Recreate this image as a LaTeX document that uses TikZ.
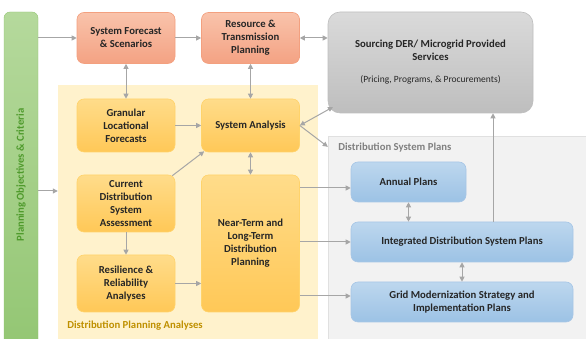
\documentclass[tikz,border=0pt]{standalone}
\usepackage{fontspec}
\setmainfont{Carlito}
\usetikzlibrary{arrows.meta}
\definecolor{salmontop}{HTML}{F9C3AB}
\definecolor{salmonbot}{HTML}{F4A283}
\definecolor{salmonline}{HTML}{F3A07F}
\definecolor{ambertop}{HTML}{FFDC8A}
\definecolor{amberbot}{HTML}{FFC857}
\definecolor{amberline}{HTML}{FFD36B}
\definecolor{bluetop}{HTML}{BDD7EE}
\definecolor{bluebot}{HTML}{9CC2E5}
\definecolor{blueline}{HTML}{A7C6E6}
\definecolor{greytop}{HTML}{DADADA}
\definecolor{greybot}{HTML}{BEBEBE}
\definecolor{arrowgrey}{HTML}{A6A6A6}
\definecolor{paleyellow}{HTML}{FFF2CC}
\definecolor{palegrey}{HTML}{F2F2F2}
\definecolor{greentop}{HTML}{B5D99C}
\definecolor{greenbot}{HTML}{93C673}
\definecolor{greentext}{HTML}{4F9A2C}
\definecolor{goldtext}{HTML}{BF9000}
\definecolor{inktext}{HTML}{262626}

\begin{document}
\begin{tikzpicture}[x=1pt,y=1pt,
		font=\fontsize{10.7}{13}\selectfont\bfseries,
		box/.style={rounded corners=7pt,draw,line width=0.6pt,align=center,text=inktext,inner sep=2pt},
		salmonbox/.style={box,draw=salmonline,top color=salmontop,bottom color=salmonbot,minimum width=98,minimum height=51},
		amberbox/.style={box,draw=amberline,top color=ambertop,bottom color=amberbot,minimum width=98},
		bluebox/.style={box,draw=blueline,top color=bluetop,bottom color=bluebot,minimum height=40},
		arr/.style={arrowgrey,line width=1pt,-{Triangle[length=5pt,width=5pt]}},
		dblarr/.style={arr,{Triangle[length=5pt,width=5pt]}-{Triangle[length=5pt,width=5pt]}}]
	\useasboundingbox (0,0) rectangle (586,339);
	\clip (0,0) rectangle (586,339);
	% backgrounds
	\node[fill=paleyellow,minimum width=260,minimum height=258,inner sep=0] (dpa) at (188,125) {};
	\node[fill=palegrey,draw=black!12,minimum width=264,minimum height=207,inner sep=0] (dsp) at (460,99.5) {};
	\node[anchor=south west,text=goldtext] (dpalabel) at ([xshift=6,yshift=9]dpa.south west) {Distribution Planning Analyses};
	\node[anchor=west,text=black!50] (dsplabel) at ([xshift=7,yshift=-12]dsp.north west) {Distribution System Plans};
	% objectives bar
	\node[rounded corners=6pt,draw=greenbot,top color=greentop,bottom color=greenbot,minimum width=34,minimum height=340,inner sep=0] (obj) at (21,157) {};
	\node[rotate=90,text=greentext] (objlabel) at (21,164) {Planning Objectives \& Criteria};
	% boxes
	\node[salmonbox] (fcst) at (126,301) {System Forecast\\\& Scenarios};
	\node[salmonbox] (rtp) at (250.5,301) {Resource \&\\Transmission\\Planning};
	\node[box,draw=greybot,top color=greytop,bottom color=greybot,rounded corners=12pt,minimum width=205,minimum height=101] (der) at (430.5,276.5)
		{Sourcing DER/ Microgrid Provided\\Services\\[9pt]{\mdseries\fontsize{9.5}{11}\selectfont(Pricing, Programs, \& Procurements)}};
	\node[amberbox,minimum height=53] (glf) at (126,213.5) {Granular\\Locational\\Forecasts};
	\node[amberbox,minimum height=53] (sa) at (250.5,213.5) {System Analysis};
	\node[amberbox,minimum height=57] (cdsa) at (126,135.5) {Current\\Distribution\\System\\Assessment};
	\node[amberbox,minimum height=57] (rra) at (126,55.5) {Resilience \&\\Reliability\\Analyses};
	\node[amberbox,minimum height=137] (ntlt) at (250.5,95.5) {Near-Term and\\Long-Term\\Distribution\\Planning};
	\node[bluebox,minimum width=115] (ap) at (408.5,157) {Annual Plans};
	\node[bluebox,minimum width=222] (idsp) at (462,97) {Integrated Distribution System Plans};
	\node[bluebox,minimum width=222] (gms) at (462,37) {Grid Modernization Strategy and\\Implementation Plans};
	% connectors
	\coordinate (objout) at (obj.east |- 0,148);
	\coordinate (derin) at (333,232);
	\coordinate (dspin) at ([yshift=-11]dsp.north west);
	\draw[arr] (obj.east |- fcst.west) -- (fcst.west);
	\draw[arr] (objout) -- (objout -| dpa.west);
	\draw[arr] (fcst.east) -- (fcst.east -| rtp.west);
	\draw[dblarr] (rtp.east) -- (rtp.east -| der.west);
	\draw[dblarr] (fcst.south) -- (glf.north);
	\draw[dblarr] (rtp.south) -- (sa.north);
	\draw[arr] (glf.east) -- (sa.west);
	\draw[arr] ([xshift=-3,yshift=-1]cdsa.north east) -- ([xshift=3,yshift=1]sa.south west);
	\draw[dblarr] (sa.south) -- (ntlt.north);
	\draw[dblarr] (sa.east) -- (derin);
	\draw[arr] (sa.east) -- (dspin);
	\draw[arr] (cdsa.south) -- (rra.north);
	\draw[arr] (rra.east) -- (rra.east -| ntlt.west);
	\draw[arr] ([yshift=-6]ntlt.east |- ap.west) -- ([yshift=-6]ap.west);
	\draw[arr] (ntlt.east |- idsp.west) -- (idsp.west);
	\draw[arr] ([yshift=6]ntlt.east |- gms.west) -- ([yshift=6]gms.west);
	\draw[dblarr] (ap.south) -- (ap.south |- idsp.north);
	\draw[dblarr] (idsp.south) -- (gms.north);
	\draw[arr] ([xshift=31]idsp.north) -- ([xshift=31]idsp.north |- der.south);
\end{tikzpicture}
\end{document}
